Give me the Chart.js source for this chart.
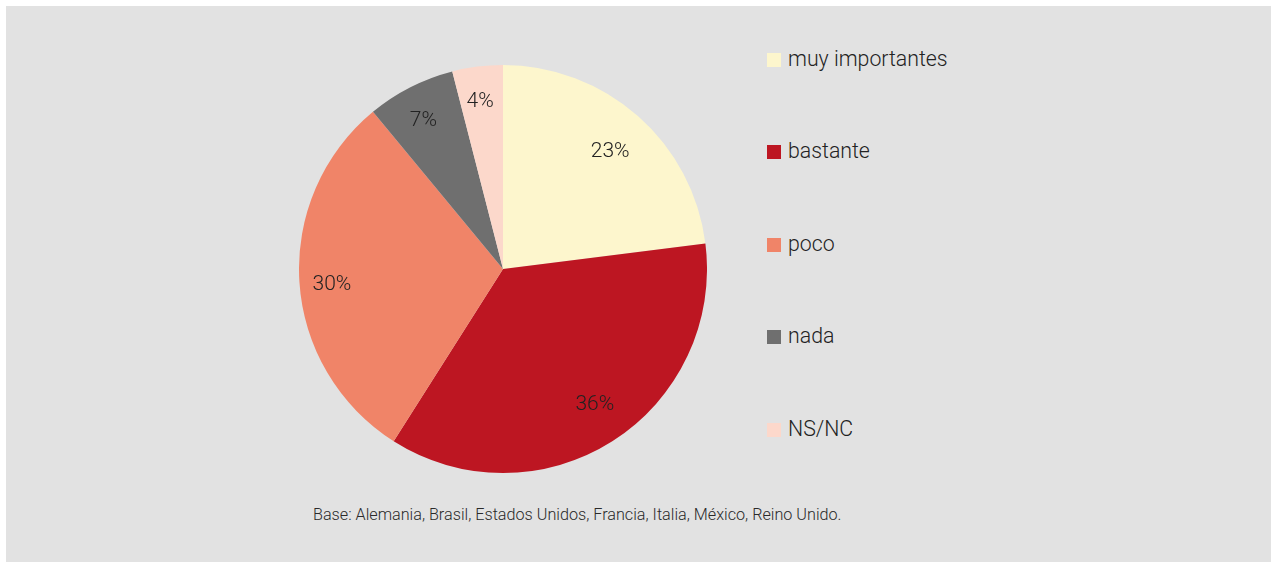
<!DOCTYPE html>
<html>
<head>
<meta charset="utf-8">
<script src="https://cdn.jsdelivr.net/npm/chart.js@4/dist/chart.umd.min.js"></script>
<style>
    body { margin: 0; background: #ffffff; font-family: Roboto, "Open Sans", sans-serif; }
    #panel { position: absolute; left: 6px; top: 6px; width: 1265px; height: 556px; background: #e2e2e2; }
    #pieBox { position: absolute; left: 293px; top: 59px; width: 408px; height: 408px; }
    #legend { position: absolute; left: 761px; top: 0; }
    .item { position: absolute; left: 0; white-space: nowrap; font-size: 21.3px; font-weight: 300; color: #222; line-height: 24px; }
    .item span.box { display: inline-block; width: 14px; height: 14px; margin-right: 7px; vertical-align: -1px; }
    #note { position: absolute; left: 307px; top: 499px; font-size: 16.2px; font-weight: 300; color: #2a2a2a; white-space: nowrap; }
</style>
</head>
<body>
<div id="panel">
    <div id="pieBox"><canvas id="myChart" width="408" height="408"></canvas></div>
    <div id="legend"></div>
    <div id="note">Base: Alemania, Brasil, Estados Unidos, Francia, Italia, México, Reino Unido.</div>
</div>
<script>
    var labels = ["muy importantes", "bastante", "poco", "nada", "NS/NC"];
    var values = [23, 36, 30, 7, 4];
    var colors = ["#fdf6cd", "#bd1622", "#f08468", "#6f6f6f", "#fcd8cb"];

    // porcentajes dentro de cada sector
    const pctLabels = {
        id: 'pctLabels',
        afterDatasetsDraw(chart, args, opts) {
            const ctx = chart.ctx;
            const meta = chart.getDatasetMeta(0);
            ctx.save();
            ctx.font = '300 21px Roboto';
            ctx.fillStyle = '#222';
            ctx.textAlign = 'center';
            ctx.textBaseline = 'middle';
            meta.data.forEach((arc, i) => {
                const p = arc.getProps(['x', 'y', 'startAngle', 'endAngle', 'outerRadius']);
                const mid = (p.startAngle + p.endAngle) / 2 + opts.shift[i] * Math.PI / 180;
                const r = p.outerRadius * opts.dist[i];
                ctx.fillText(values[i] + '%', p.x + Math.cos(mid) * r, p.y + Math.sin(mid) * r + 2);
            });
            ctx.restore();
        }
    };

    new Chart("myChart", {
        type: "pie",
        data: {
            labels: labels,
            datasets: [{
                data: values,
                backgroundColor: colors,
                borderWidth: 0
            }]
        },
        options: {
            responsive: false,
            animation: false,
            layout: { padding: 0 },
            plugins: {
                legend: { display: false },
                tooltip: { enabled: false },
                pctLabels: {
                    dist: [0.785, 0.797, 0.841, 0.832, 0.835],
                    shift: [0.6, -2, -1, -1, -0.5]
                }
            }
        },
        plugins: [pctLabels]
    });

    var legendTops = [41, 133, 226, 318, 411];
    var legend = document.getElementById('legend');
    labels.forEach((l, i) => {
        var d = document.createElement('div');
        d.className = 'item';
        d.style.top = legendTops[i] + 'px';
        d.innerHTML = '<span class="box" style="background:' + colors[i] + '"></span>' + l;
        legend.appendChild(d);
    });
</script>
</body>
</html>
